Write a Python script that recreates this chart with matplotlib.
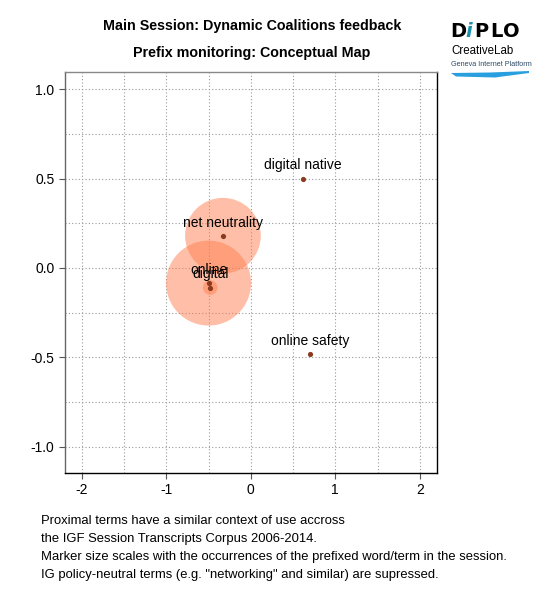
import matplotlib.pyplot as plt
import numpy as np
from matplotlib.patches import Polygon

plt.rcParams['font.family'] = ['Liberation Sans', 'DejaVu Sans']

# concept map coordinates and occurrences of the prefixed term
terms = ['digital native', 'net neutrality', 'online', 'digital', 'online safety']
x_vals = [0.62, -0.33, -0.50, -0.48, 0.70]
y_vals = [0.50, 0.18, -0.085, -0.11, -0.48]
occurrences = [0, 27, 34, 1, 0]

fig = plt.figure(figsize=(5.5, 6), dpi=100)
ax = fig.add_axes([0.118, 0.2117, 0.676, 0.669])

sizes = np.array(occurrences) * 110
ax.scatter(x_vals, y_vals, s=sizes, color='#FF7F50', alpha=0.5,
           linewidths=0, zorder=2)
ax.scatter(x_vals, y_vals, s=14, color='#8B3A1F', linewidths=0, zorder=3)
for t, xv, yv in zip(terms, x_vals, y_vals):
    ax.annotate(t, (xv, yv), xytext=(0, 9.5), textcoords='offset points',
                ha='center', va='center', fontsize=10, zorder=4)

ax.set_xlim(-2.2, 2.2)
ax.set_ylim(-1.147, 1.098)
ax.set_xticks([-2, -1, 0, 1, 2])
ax.set_yticks([-1.0, -0.5, 0.0, 0.5, 1.0])
ax.set_xticklabels(['-2', '-1', '0', '1', '2'])
ax.set_yticklabels(['-1.0', '-0.5', '0.0', '0.5', '1.0'])
ax.set_xticks(np.arange(-2, 2.01, 0.5), minor=True)
ax.set_yticks(np.arange(-1, 1.01, 0.25), minor=True)
ax.tick_params(which='minor', length=0)
ax.tick_params(which='major', length=4, labelsize=10, direction='out',
               color='#555555')
ax.grid(True, which='both', linestyle=(0, (1, 2)), color='#999999',
        linewidth=0.8)
ax.set_axisbelow(True)
ax.spines['top'].set_color('#888888')
ax.spines['left'].set_color('#666666')
ax.spines['right'].set_color('black')
ax.spines['bottom'].set_color('black')
for s in ax.spines.values():
    s.set_linewidth(1.0)

fig.text(0.458, 0.957, 'Main Session: Dynamic Coalitions feedback',
         ha='center', va='center', fontsize=10.3, fontweight='bold')
fig.text(0.458, 0.911, 'Prefix monitoring: Conceptual Map',
         ha='center', va='center', fontsize=10.3, fontweight='bold')

notes = ['Proximal terms have a similar context of use accross',
         'the IGF Session Transcripts Corpus 2006-2014.',
         'Marker size scales with the occurrences of the prefixed word/term in the session.',
         'IG policy-neutral terms (e.g. "networking" and similar) are supressed.']
for i, line in enumerate(notes):
    fig.text(0.074, 1 - (521 + i * 18) / 600, line, ha='left', va='center',
             fontsize=9.4)

# logo
logo_letters = [('D', 450, 'black', 'normal'), ('i', 465, '#1A8FB0', 'italic'),
                ('P', 474, 'black', 'normal'), ('L', 490, 'black', 'normal'),
                ('O', 503, 'black', 'normal')]
for ch, px, col, st in logo_letters:
    fig.text(px / 550, 1 - 31.5 / 600, ch, ha='left', va='center',
             fontsize=14, fontweight='heavy', style=st, color=col,
             family='DejaVu Sans')
fig.text(0.820, 1 - 51 / 600, 'CreativeLab', ha='left', va='center',
         fontsize=8.3, color='black')
fig.text(0.820, 1 - 64 / 600, 'Geneva Internet Platform', ha='left',
         va='center', fontsize=5.2, color='#2F4A66')
swoosh = Polygon([[451 / 550, 1 - 73 / 600], [490 / 550, 1 - 72.5 / 600],
                  [529 / 550, 1 - 71 / 600], [529 / 550, 1 - 73 / 600],
                  [495 / 550, 1 - 77.5 / 600], [456 / 550, 1 - 76.5 / 600]],
                 closed=True, transform=fig.transFigure, color='#2A9FE0',
                 linewidth=0)
fig.patches.append(swoosh)

fig.savefig('out.png', dpi=100)
